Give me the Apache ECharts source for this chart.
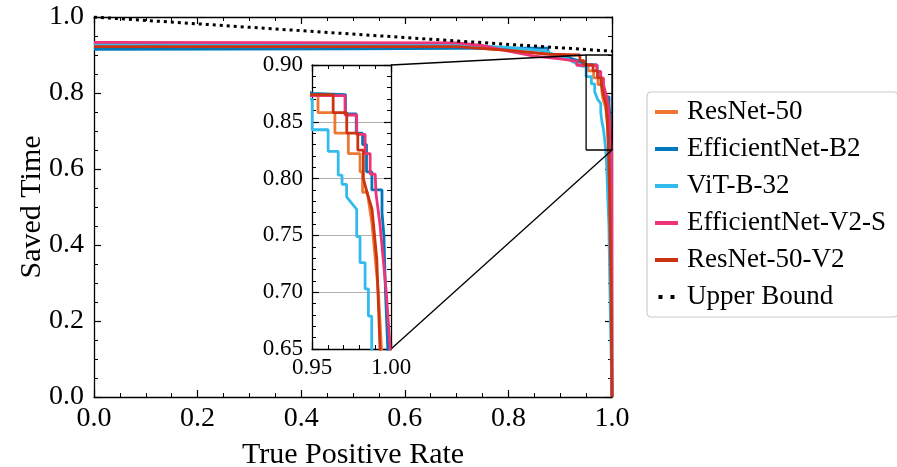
<!DOCTYPE html>
<html>
<head>
<meta charset="utf-8">
<script src="https://cdn.jsdelivr.net/npm/echarts@6/dist/echarts.min.js"></script>
<style>
  html, body { margin: 0; padding: 0; background: #fff; }
  #chart { width: 897px; height: 467px; }
</style>
</head>
<body>
<div id="chart"></div>
<script>
// Saved time vs. true positive rate for each backbone, [TPR, saved time]
const resnet50 = [[0,0.923],[0.70,0.922],[0.80,0.912],[0.88,0.902],[0.92,0.892],[0.923,0.882],[0.938,0.882],[0.945,0.874],
  [0.9538,0.874],[0.9538,0.858],[0.9645,0.858],[0.9645,0.840],[0.973,0.840],[0.973,0.822],[0.9804,0.822],[0.9804,0.806],
  [0.982,0.806],[0.982,0.788],[0.985,0.788],[0.988,0.760],[0.990,0.730],[0.992,0.700],[0.994,0.650],[0.997,0.50],[1.0,0]];
const efficientNetB2 = [[0,0.915],[0.50,0.916],[0.80,0.918],[0.876,0.918],[0.877,0.904],[0.91,0.895],[0.935,0.885],[0.95,0.875],
  [0.9712,0.874],[0.9712,0.857],[0.978,0.857],[0.978,0.840],[0.982,0.840],[0.982,0.830],[0.9845,0.830],[0.9845,0.806],
  [0.9879,0.806],[0.9879,0.790],[0.9943,0.790],[0.9943,0.770],[0.9955,0.750],[0.9965,0.700],[0.998,0.650],[0.999,0.40],[1.0,0]];
const vitB32 = [[0,0.928],[0.70,0.927],[0.80,0.920],[0.86,0.912],[0.875,0.909],[0.896,0.895],[0.915,0.890],[0.925,0.882],
  [0.935,0.875],[0.943,0.870],[0.9501,0.870],[0.9501,0.843],[0.9602,0.843],[0.9602,0.824],[0.9666,0.824],[0.9666,0.803],
  [0.9690,0.803],[0.9690,0.795],[0.9719,0.795],[0.9719,0.784],[0.9783,0.773],[0.9783,0.749],[0.9804,0.749],[0.9804,0.726],
  [0.9836,0.726],[0.9836,0.703],[0.9857,0.703],[0.9857,0.679],[0.9878,0.679],[0.9878,0.650],[0.990,0.600],[0.992,0.520],
  [0.994,0.450],[0.997,0.20],[1.0,0]];
const efficientNetV2S = [[0,0.933],[0.70,0.932],[0.75,0.925],[0.80,0.910],[0.85,0.897],[0.90,0.890],[0.932,0.884],[0.932,0.873],
  [0.9709,0.873],[0.9709,0.856],[0.9783,0.856],[0.9783,0.839],[0.9836,0.839],[0.9836,0.822],[0.9868,0.822],[0.9868,0.804],
  [0.990,0.804],[0.9905,0.787],[0.993,0.760],[0.995,0.730],[0.997,0.700],[0.9985,0.670],[0.9995,0.650],[1.0,0]];
const resnet50V2 = [[0,0.922],[0.70,0.922],[0.80,0.912],[0.88,0.902],[0.938,0.900],[0.938,0.885],[0.946,0.885],[0.946,0.874],
  [0.9634,0.874],[0.9634,0.858],[0.972,0.858],[0.972,0.840],[0.979,0.840],[0.979,0.825],[0.9825,0.825],[0.9825,0.800],
  [0.985,0.787],[0.988,0.773],[0.991,0.729],[0.993,0.652],[0.995,0.55],[0.998,0.30],[1.0,0]];
const upperBound = [[0,1.0],[1.0,0.91]];

// Zoomed window shown in the inset
const zoomX = [0.95, 1.0];
const zoomY = [0.65, 0.90];

const seriesNames = ['ResNet-50', 'EfficientNet-B2', 'ViT-B-32', 'EfficientNet-V2-S', 'ResNet-50-V2'];
const seriesData = [resnet50, efficientNetB2, vitB32, efficientNetV2S, resnet50V2];
const seriesColors = ['#EE7733', '#0077BB', '#33BBEE', '#EE3377', '#CC3311'];

const FONT = 'Liberation Serif';

function axis(o) {
  return Object.assign({
    type: 'value',
    splitLine: { show: false },
    axisLine: { show: true, onZero: false, lineStyle: { color: '#000', width: 1.3 } },
    axisTick: { show: true, inside: true, length: 7, lineStyle: { color: '#000', width: 1.2 } },
    minorTick: { show: true, length: 4, lineStyle: { color: '#000', width: 1 } },
    axisLabel: { show: false }
  }, o);
}
const minor = n => ({ show: true, splitNumber: n, length: 4, lineStyle: { color: '#000', width: 1 } });

const mainLabel = d => ({ show: true, color: '#000', fontFamily: FONT, fontSize: 28, margin: d, formatter: v => v.toFixed(1) });
const insetLabel = d => ({ show: true, color: '#000', fontFamily: FONT, fontSize: 23, margin: d, formatter: v => v.toFixed(2) });
const nameStyle = { color: '#000', fontFamily: FONT, fontSize: 30 };

const xAxes = [
  axis({ gridIndex: 0, position: 'bottom', min: 0, max: 1, interval: 0.2, minorTick: minor(4),
    axisLabel: mainLabel(8), name: 'True Positive Rate', nameLocation: 'middle', nameGap: 43, nameMoveOverlap: false, nameTextStyle: nameStyle }),
  axis({ gridIndex: 0, position: 'top', min: 0, max: 1, interval: 0.2, minorTick: minor(4) }),
  axis({ gridIndex: 1, position: 'bottom', min: zoomX[0], max: zoomX[1], interval: 0.05, z: 4, minorTick: minor(5), axisLabel: insetLabel(7) }),
  axis({ gridIndex: 1, position: 'top', min: zoomX[0], max: zoomX[1], interval: 0.05, z: 4, minorTick: minor(5) })
];
const yAxes = [
  axis({ gridIndex: 0, position: 'left', min: 0, max: 1, interval: 0.2, minorTick: minor(4),
    axisLabel: mainLabel(10), name: 'Saved Time', nameLocation: 'middle', nameGap: 47, nameMoveOverlap: false, nameTextStyle: nameStyle }),
  axis({ gridIndex: 0, position: 'right', min: 0, max: 1, interval: 0.2, minorTick: minor(4) }),
  axis({ gridIndex: 1, position: 'left', min: zoomY[0], max: zoomY[1], interval: 0.05, z: 4, minorTick: minor(5), axisLabel: insetLabel(9),
    splitLine: { show: true, lineStyle: { color: '#b0b0b0', width: 1 } } }),
  axis({ gridIndex: 1, position: 'right', min: zoomY[0], max: zoomY[1], interval: 0.05, z: 4, minorTick: minor(5) })
];

const series = [];
seriesData.forEach((data, i) => {
  series.push({ name: seriesNames[i], type: 'line', data, xAxisIndex: 0, yAxisIndex: 0, symbol: 'none',
    z: 2, lineStyle: { color: seriesColors[i], width: 2.8 }, itemStyle: { color: seriesColors[i] } });
});
series.push({ name: 'Upper Bound', type: 'line', data: upperBound, xAxisIndex: 0, yAxisIndex: 0, symbol: 'none', z: 2,
  lineStyle: { color: '#000', width: 3, type: [3, 4], cap: 'butt' }, itemStyle: { color: '#000' } });
// outline of the zoomed window in the main axes
series.push({ type: 'line', data: [[zoomX[0], zoomY[0]], [zoomX[0], zoomY[1]], [zoomX[1], zoomY[1]], [zoomX[1], zoomY[0]], [zoomX[0], zoomY[0]]],
  xAxisIndex: 0, yAxisIndex: 0, symbol: 'none', z: 2, silent: true, lineStyle: { color: '#000', width: 1.3 } });
seriesData.forEach((data, i) => {
  series.push({ name: seriesNames[i], type: 'line', data, xAxisIndex: 2, yAxisIndex: 2, symbol: 'none', z: 5,
    lineStyle: { color: seriesColors[i], width: 2.8 }, itemStyle: { color: seriesColors[i] } });
});

const legendItems = seriesNames.map((n, i) => ({ name: n, icon: 'rect' }));
legendItems.push({ name: 'Upper Bound', icon: 'path://M0,0h5v5h-5z M15,0h5v5h-5z',
  itemStyle: { color: '#000', borderWidth: 0, borderColor: 'rgba(0,0,0,0)', borderType: 'solid' } });

const chart = echarts.init(document.getElementById('chart'), null, { renderer: 'canvas' });
chart.setOption({
  animation: false,
  backgroundColor: '#fff',
  grid: [
    { left: 94, right: 285, top: 17, bottom: 70, outerBoundsMode: 'none', containLabel: false },
    { left: 312, top: 65, width: 79, height: 284, outerBoundsMode: 'none', containLabel: false }
  ],
  xAxis: xAxes,
  yAxis: yAxes,
  legend: {
    orient: 'vertical', left: 647, top: 92, padding: [6, 12, 6, 8],
    itemWidth: 23, itemHeight: 4, itemGap: 9, selectedMode: false,
    backgroundColor: '#fff', borderColor: '#cccccc', borderWidth: 1.2, borderRadius: 4,
    textStyle: { color: '#000', fontFamily: FONT, fontSize: 27, lineHeight: 28, padding: [0, 0, 0, 4] },
    data: legendItems
  },
  series
});

// inset backdrop and connector lines, placed from the axes' own coordinates
const tl = chart.convertToPixel({ xAxisIndex: 2, yAxisIndex: 2 }, [zoomX[0], zoomY[1]]);
const br = chart.convertToPixel({ xAxisIndex: 2, yAxisIndex: 2 }, [zoomX[1], zoomY[0]]);
const boxTL = chart.convertToPixel({ xAxisIndex: 0, yAxisIndex: 0 }, [zoomX[0], zoomY[1]]);
const boxBR = chart.convertToPixel({ xAxisIndex: 0, yAxisIndex: 0 }, [zoomX[1], zoomY[0]]);
chart.setOption({
  graphic: [
    { type: 'rect', z: 3, silent: true, shape: { x: tl[0], y: tl[1], width: br[0] - tl[0], height: br[1] - tl[1] }, style: { fill: '#fff' } },
    { type: 'line', z: 3, silent: true, shape: { x1: br[0], y1: tl[1], x2: boxTL[0], y2: boxTL[1] }, style: { stroke: '#000', lineWidth: 1.3 } },
    { type: 'line', z: 3, silent: true, shape: { x1: br[0], y1: br[1], x2: boxBR[0], y2: boxBR[1] }, style: { stroke: '#000', lineWidth: 1.3 } }
  ]
});
</script>
</body>
</html>
